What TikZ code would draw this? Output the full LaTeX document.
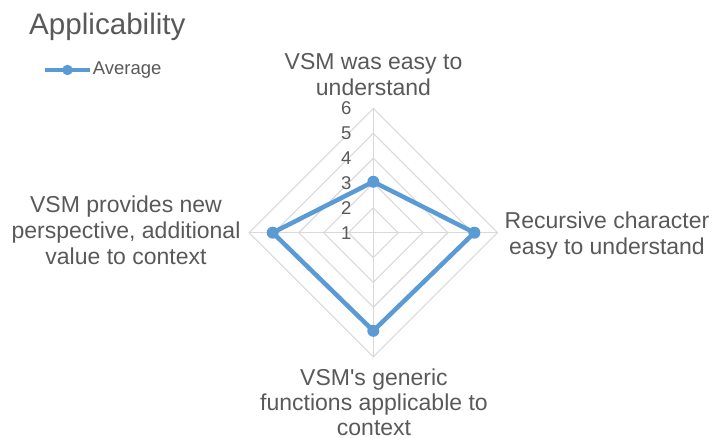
\documentclass[tikz,border=0pt]{standalone}
\usepackage{fontspec}
\setmainfont{Liberation Sans}
\usepackage{xcolor}
\definecolor{txtgray}{HTML}{595959}
\definecolor{gridgray}{HTML}{D9D9D9}
\definecolor{avgblue}{HTML}{5B9BD5}
\newcommand{\ringstep}{24.84}

\begin{document}
\begin{tikzpicture}[x=1pt,y=1pt,
  gridline/.style={gridgray,line width=1.1pt},
  axislbl/.style={txtgray,align=center,anchor=north,inner sep=0pt,font=\fontsize{23}{26}\selectfont},
  ticklbl/.style={txtgray,anchor=east,inner sep=0pt,font=\fontsize{18.5}{22}\selectfont},
  avgdot/.style={circle,fill=avgblue,inner sep=0pt,minimum size=12pt}]
\useasboundingbox (0,0) rectangle (715,438);

% title and legend
\node[txtgray,anchor=base west,inner sep=0pt,font=\fontsize{29.6}{34}\selectfont] (title) at (29,403) {Applicability};
\coordinate (legA) at (45,368);
\coordinate (legB) at (90,368);
\draw[avgblue,line width=4pt] (legA) -- (legB);
\node[avgdot,minimum size=10.5pt] (legdot) at (67.5,368) {};
\node[txtgray,anchor=base west,inner sep=0pt,font=\fontsize{18.5}{22}\selectfont] (legtxt) at (92.7,363) {Average};

% grid
\coordinate (c) at (373.3,205.3);
\foreach \r in {1,...,5}
  \draw[gridline] (c) ++(0,\r*\ringstep) -- ++(\r*\ringstep,-\r*\ringstep)
    -- ++(-\r*\ringstep,-\r*\ringstep) -- ++(-\r*\ringstep,\r*\ringstep) -- cycle;
\draw[gridline] (c) -- ++(0,5*\ringstep);
\draw[gridline] (c) -- ++(5*\ringstep,0);
\draw[gridline] (c) -- ++(0,-5*\ringstep);
\draw[gridline] (c) -- ++(-5*\ringstep,0);

% scale
\foreach \v in {1,...,6}
  \node[ticklbl] (tick\v) at (351.7,{205.3+(\v-1)*\ringstep}) {\v};

% average series
\coordinate (v1) at (373.3,{205.3+2.05*\ringstep});
\coordinate (v2) at ({373.3+4.07*\ringstep},205.3);
\coordinate (v3) at (373.3,{205.3-3.95*\ringstep});
\coordinate (v4) at ({373.3-4.05*\ringstep},205.3);
\draw[avgblue,line width=4.5pt,line join=round] (v1) -- (v2) -- (v3) -- (v4) -- cycle;
\node[avgdot] (d1) at (v1) {};
\node[avgdot] (d2) at (v2) {};
\node[avgdot] (d3) at (v3) {};
\node[avgdot] (d4) at (v4) {};

% axis labels
\node[axislbl] (top) at (373.5,384.7) {VSM was easy to\\understand};
\node[axislbl] (right) at (607,226.8) {Recursive character\\easy to understand};
\node[axislbl,font=\fontsize{23}{25}\selectfont] (bottom) at (374,69.5) {VSM\textquotesingle s generic\\functions applicable to\\context};
\node[axislbl] (left) at (126,242.4) {VSM provides new\\perspective, additional\\value to context};
\end{tikzpicture}
\end{document}
